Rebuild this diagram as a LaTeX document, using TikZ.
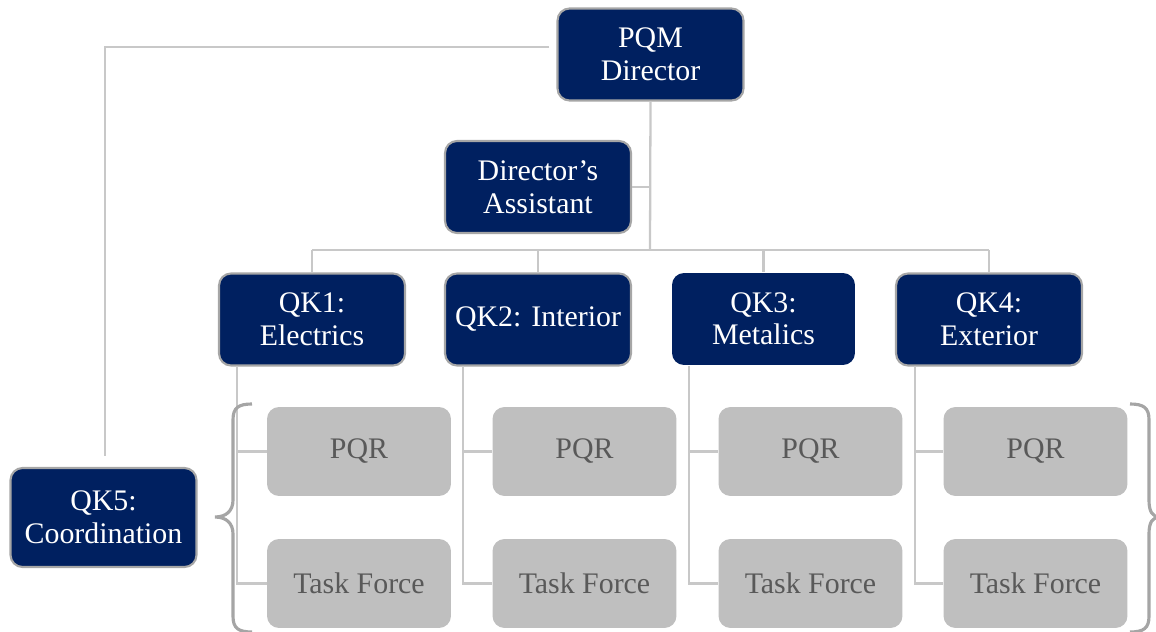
\documentclass[tikz,border=0pt]{standalone}
\usepackage{fontspec}
\setmainfont{Liberation Serif}
\definecolor{navy}{HTML}{002060}
\definecolor{bordergray}{HTML}{A6A6A6}
\definecolor{linegray}{HTML}{C8C8C8}
\definecolor{boxgray}{HTML}{BFBFBF}
\definecolor{txtgray}{HTML}{595959}
\definecolor{bracegray}{HTML}{A5A5A5}
\begin{document}
\begin{tikzpicture}[x=0.02cm,y=-0.02cm,
  mgr/.style={rectangle,rounded corners=0.24cm,fill=navy,draw=bordergray,line width=1.2pt,
    text=white,align=center,inner sep=0pt,minimum width=3.72cm,minimum height=1.84cm,
    font=\fontsize{17}{18.5}\selectfont},
  sub/.style={rectangle,rounded corners=0.24cm,fill=boxgray,text=txtgray,align=center,
    inner sep=0pt,minimum width=3.68cm,minimum height=1.78cm,
    font=\fontsize{17}{18.5}\selectfont},
  conn/.style={draw=linegray,line width=1.3pt},
  brace/.style={draw=bracegray,line width=1.8pt}]
\useasboundingbox (0,0) rectangle (1156,632);

% managers
\node[mgr] (dir) at (650.5,54.5) {PQM\\Director};
\node[mgr] (asst) at (538,187) {Director’s\\Assistant};
\node[mgr] (qk1) at (312,319.5) {QK1:\\Electrics};
\node[mgr] (qk2) at (538,319.5) {QK2: Interior};
\node[mgr,draw=none,minimum width=3.66cm] (qk3) at (763.5,319) {QK3:\\Metalics};
\node[mgr] (qk4) at (989,319.5) {QK4:\\Exterior};
\node[mgr,minimum height=1.98cm] (qk5) at (103.5,517.5) {QK5:\\Coordination};

% sub units
\foreach \i/\x in {1/359,2/584.5,3/810.5,4/1035.5}{
  \node[sub] (pqr\i) at (\x,451.5) {PQR};
  \node[sub] (tf\i) at (\x,583.5) {Task Force};
}

% connectors
\coordinate (hub) at (650,250);
\coordinate (busL) at (312,250);
\coordinate (busR) at (989,250);
\coordinate (lc) at (105,47);
\draw[conn] (dir.south) -- (hub);
\draw[conn] (asst.east) -- (asst.east -| hub);
\draw[conn] (busL) -- (busR);
\foreach \n in {qk1,qk2,qk3,qk4}{
  \draw[conn] (\n.north |- hub) -- (\n.north);
}
\draw[conn,shorten <=0.14cm,shorten >=0.22cm] (dir.west |- lc) -- (lc) -- (qk5.north -| lc);

\foreach \i/\x in {1/237,2/463,3/689,4/915}{
  \coordinate (v\i) at (\x,366);
  \draw[conn] (v\i) -- (v\i |- tf\i.west) -- (tf\i.west);
  \draw[conn] (v\i |- pqr\i.west) -- (pqr\i.west);
}

% braces
\draw[brace] (252,404) .. controls (238,404) and (233,408) .. (233,420) -- (233,500)
  .. controls (233,511) and (226,517) .. (215,517)
  .. controls (226,517) and (233,523) .. (233,534) -- (233,616)
  .. controls (233,628) and (238,632) .. (252,632);
\draw[brace] (1130,404) .. controls (1144,404) and (1149,408) .. (1149,420) -- (1149,500)
  .. controls (1149,511) and (1152,517) .. (1160,517)
  .. controls (1152,517) and (1149,523) .. (1149,534) -- (1149,616)
  .. controls (1149,628) and (1144,632) .. (1130,632);
\end{tikzpicture}
\end{document}
